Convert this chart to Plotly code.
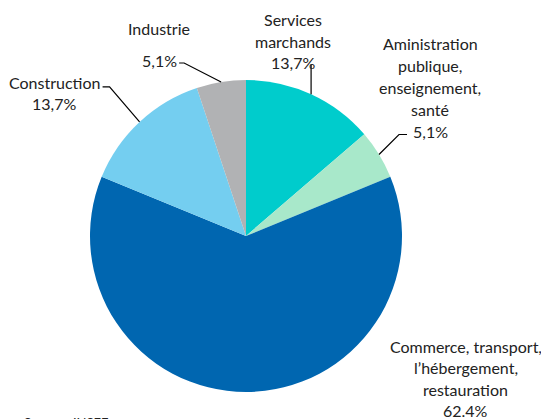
import math
import plotly.graph_objects as go

# ---- data ----
categories = ["Services marchands", "Administration publique, enseignement, santé",
              "Commerce, transport, l’hébergement, restauration", "Construction", "Industrie"]
values = [13.7, 5.1, 62.4, 13.7, 5.1]
label_lines = [
    ["Services", "marchands", "13,7%"],
    ["Aministration", "publique,", "enseignement,", "santé", "5,1%"],
    ["Commerce, transport,", "l’hébergement,", "restauration", "62.4%"],
    ["Construction", "13,7%"],
    ["Industrie", "5,1%"],
]
colors = ["#00CCCC", "#A8E8CA", "#0066B0", "#74CEF0", "#B1B2B4"]

# page body has an 8px margin: figure origin sits at (8, 8) in the window
OFF = 8
W, H = 549 - OFF, 419 - OFF
CX, CY, R = 246, 236, 156  # pie centre/radius in window pixels

def px(x):
    return (x - OFF) / W

def py(y):
    return 1 - (y - OFF) / H

fig = go.Figure(go.Pie(
    labels=categories, values=values, sort=False, direction="clockwise", rotation=0,
    marker=dict(colors=colors, line=dict(width=0)), textinfo="none", hoverinfo="label+percent",
    domain=dict(x=[px(CX - R), px(CX + R)], y=[py(CY + R), py(CY - R)]),
    showlegend=False,
))

# mid-angle anchor points on the rim, computed from the data
total = sum(values)
anchors = []
cum = 0
for v in values:
    mid = (cum + v / 2) / total * 2 * math.pi
    anchors.append((CX + R * math.sin(mid), CY - R * math.cos(mid)))
    cum += v

# label layout: (centre x, first line y, line spacing)
label_pos = [
    (293, 20, 21),
    (430, 43, 22.2),
    (466, 346, 21.5),
    (54, 82, 21),
    (159, 28, 32),
]
# leader-line elbows (offsets from anchor) and horizontal tail
leaders = [
    [(0, -30)],
    [(20, -20), (28, -20)],
    None,
    [(-30, -35), (-37, -35)],
    [(-37, -19), (-42, -19)],
]

annotations = []
font = dict(family="Lato, Carlito, sans-serif", size=16, color="#222222")
for (cx, y0, dy), lines in zip(label_pos, label_lines):
    for i, t in enumerate(lines):
        annotations.append(dict(text=t, x=px(cx), y=py(y0 + i * dy), xref="paper", yref="paper",
                                showarrow=False, xanchor="center", yanchor="middle", font=font))

shapes = []
for (ax, ay), pts in zip(anchors, leaders):
    if not pts:
        continue
    path = f"M {px(ax)} {py(ay)}"
    for ox, oy in pts:
        path += f" L {px(ax + ox)} {py(ay + oy)}"
    shapes.append(dict(type="path", path=path, xref="paper", yref="paper",
                       line=dict(color="#000000", width=1.2)))

annotations.append(dict(text="Source : INSEE", x=px(22), y=py(413), xref="paper", yref="paper",
                        showarrow=False, xanchor="left", yanchor="top",
                        font=dict(family="Lato, sans-serif", size=13, color="#222222")))

fig.update_layout(width=W, height=H, margin=dict(l=0, r=0, t=0, b=0),
                  paper_bgcolor="white", plot_bgcolor="white",
                  annotations=annotations, shapes=shapes)

fig.write_html("out.html")
